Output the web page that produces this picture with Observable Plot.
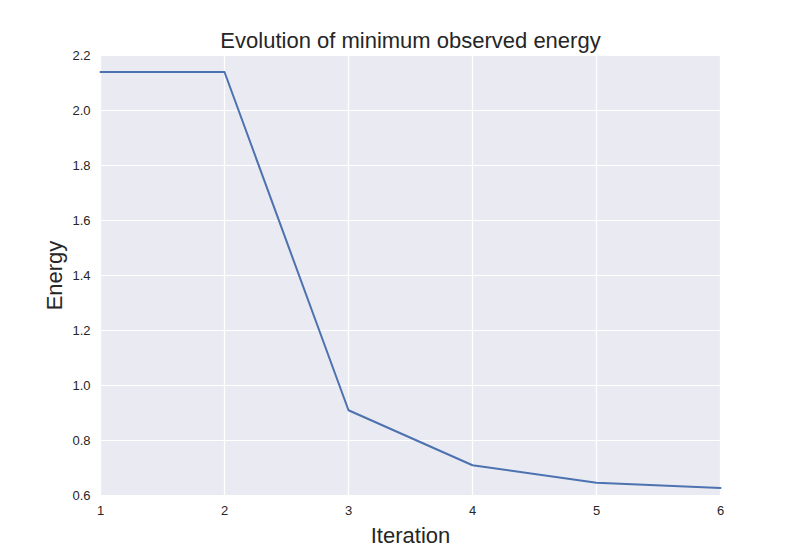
<!DOCTYPE html>
<html>
<head>
<meta charset="utf-8">
<script src="https://cdn.jsdelivr.net/npm/d3@7"></script>
<script src="https://cdn.jsdelivr.net/npm/@observablehq/plot@0.6"></script>
<style>
  html, body { margin: 0; padding: 0; background: #ffffff; }
  #chart svg { display: block; }
</style>
</head>
<body>
<div id="chart"></div>
<script>
const iterations = [1, 2, 3, 4, 5, 6];
const energies = [2.14, 2.14, 0.91, 0.71, 0.646, 0.627];
const xTicks = [1, 2, 3, 4, 5, 6];
const yTicks = [0.6, 0.8, 1.0, 1.2, 1.4, 1.6, 1.8, 2.0, 2.2];
const titleText = "Evolution of minimum observed energy";
const xLabel = "Iteration";
const yLabel = "Energy";

const data = iterations.map((it, i) => ({iteration: it, energy: energies[i]}));
const font = "'Liberation Sans', Arial, sans-serif";

const chart = Plot.plot({
  width: 800,
  height: 550,
  marginLeft: 100,
  marginRight: 80,
  marginTop: 55,
  marginBottom: 55,
  style: {fontFamily: font, fontSize: "13px", background: "#ffffff", color: "#262626"},
  x: {domain: [1, 6]},
  y: {domain: [0.6, 2.2]},
  marks: [
    Plot.frame({fill: "#EAEAF2", stroke: null}),
    Plot.gridX(xTicks, {stroke: "#ffffff", strokeOpacity: 1, strokeWidth: 1.2}),
    Plot.gridY(yTicks, {stroke: "#ffffff", strokeOpacity: 1, strokeWidth: 1.2}),
    Plot.axisX(xTicks, {tickSize: 0, tickPadding: 10, fontSize: 13, label: null, tickFormat: d => String(d)}),
    Plot.axisY(yTicks, {tickSize: 0, tickPadding: 10, fontSize: 13, label: null, tickFormat: d3.format(".1f")}),
    Plot.line(data, {x: "iteration", y: "energy", stroke: "#4C72B0", strokeWidth: 2}),
    Plot.text([titleText], {frameAnchor: "top", dy: -15, fontSize: 22, fill: "#262626", lineAnchor: "middle", textAnchor: "middle"}),
    Plot.text([xLabel], {frameAnchor: "bottom", dy: 40, fontSize: 22, fill: "#262626", lineAnchor: "middle", textAnchor: "middle"}),
    Plot.text([yLabel], {frameAnchor: "left", dx: -46, rotate: -90, fontSize: 22, fill: "#262626", lineAnchor: "middle", textAnchor: "middle"})
  ]
});
document.getElementById("chart").appendChild(chart);
</script>
</body>
</html>
